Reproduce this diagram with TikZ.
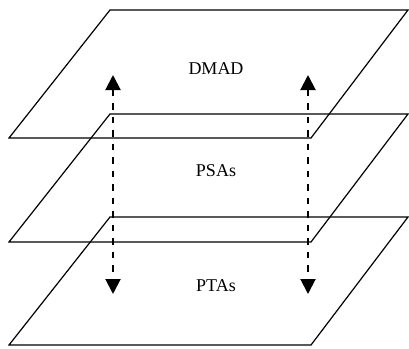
\documentclass[tikz,border=0pt]{standalone}
\usepackage{fontspec}
\setmainfont{Liberation Serif}
\usetikzlibrary{arrows.meta}
\begin{document}
\begin{tikzpicture}[x=1pt,y=-1pt,
  plane/.style={draw=black,line width=1.2pt,line join=miter},
  lab/.style={font=\fontsize{18}{20}\selectfont,inner sep=0pt},
  link/.style={draw=black,line width=2pt,dash pattern=on 6.5pt off 7pt,
    {Triangle[length=15pt,width=15pt]}-{Triangle[length=15pt,width=15pt]}}]
\useasboundingbox (0,0) rectangle (409,348);
% planes
\foreach \t/\n in {10/a,114/b,217/c}{
  \draw[plane] (9,\t+128) -- (110,\t) -- (408,\t) -- (311,\t+128) -- cycle;
}
\node[lab] (dmad) at (216,69) {DMAD};
\node[lab] (psas) at (216,171) {PSAs};
\node[lab] (ptas) at (216,286) {PTAs};
\coordinate (l1) at (113,75);
\coordinate (l2) at (113,294);
\coordinate (r1) at (308,75);
\coordinate (r2) at (308,294);
\draw[link] (l1) -- (l2);
\draw[link] (r1) -- (r2);
\end{tikzpicture}
\end{document}
